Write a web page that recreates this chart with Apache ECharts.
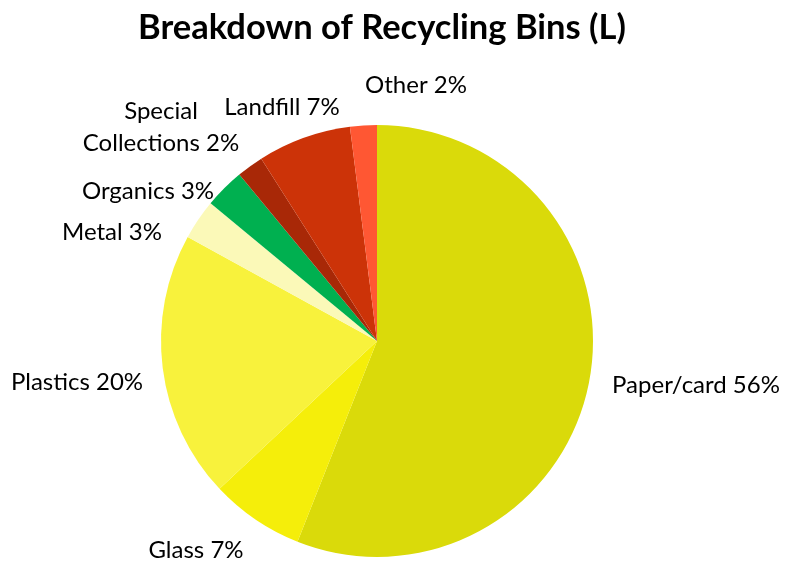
<!DOCTYPE html>
<html>
<head>
<meta charset="utf-8">
<script src="https://cdn.jsdelivr.net/npm/echarts@6/dist/echarts.min.js"></script>
<style>
  html, body { margin: 0; padding: 0; background: #fff; }
  #chart { width: 787px; height: 563px; }
</style>
</head>
<body>
<div id="chart"></div>
<script>
// Bin contents by volume, clockwise from 12 o'clock
const categories = ['Paper/card', 'Glass', 'Plastics', 'Metal', 'Organics', 'Special\nCollections', 'Landfill', 'Other'];
const shares = [56, 7, 20, 3, 3, 2, 7, 2];
const colors = ['#DADA0A', '#F5EE0A', '#F8F23C', '#FBF9B8', '#00B050', '#A82807', '#CC3308', '#FF5733'];

// Where each label's centre sits on the page
const labelSpots = [[696, 385], [196, 550], [77, 382], [112, 232], [148, 191], [161, 127], [282, 107], [416, 85]];

const FONT = 'Lato';
const LABEL_SIZE = 24;

const chart = echarts.init(document.getElementById('chart'));

const data = categories.map((name, i) => {
  const item = { name: name, value: shares[i], itemStyle: { color: colors[i] } };
  if (name.indexOf('\n') >= 0) {
    // two-line label, each line centred on the other
    const parts = name.split('\n');
    item.label = {
      formatter: '{c|' + parts[0] + '}\n{c|' + parts[1] + ' ' + shares[i] + '%}',
      rich: { c: { width: 180, align: 'center', fontSize: LABEL_SIZE, lineHeight: 32, fontFamily: FONT, color: '#000' } }
    };
  }
  return item;
});

chart.setOption({
  animation: false,
  title: {
    text: 'Breakdown of Recycling Bins (L)',
    left: 133,
    top: 5,
    textStyle: { fontFamily: FONT, fontWeight: 'bold', fontSize: 34.5, color: '#000' }
  },
  series: [{
    type: 'pie',
    center: [377, 341],
    radius: 216,
    startAngle: 90,
    clockwise: true,
    avoidLabelOverlap: false,
    data: data,
    label: {
      show: true,
      position: 'outside',
      overflow: 'none',
      formatter: p => p.name + ' ' + p.value + '%',
      fontFamily: FONT,
      fontSize: LABEL_SIZE,
      color: '#000'
    },
    labelLine: { show: false },
    labelLayout: p => ({
      x: labelSpots[p.dataIndex][0],
      y: labelSpots[p.dataIndex][1],
      align: 'center',
      verticalAlign: 'middle',
      hideOverlap: false,
      moveOverlap: null
    }),
    itemStyle: { borderWidth: 0 },
    emphasis: { disabled: true }
  }]
});
</script>
</body>
</html>
